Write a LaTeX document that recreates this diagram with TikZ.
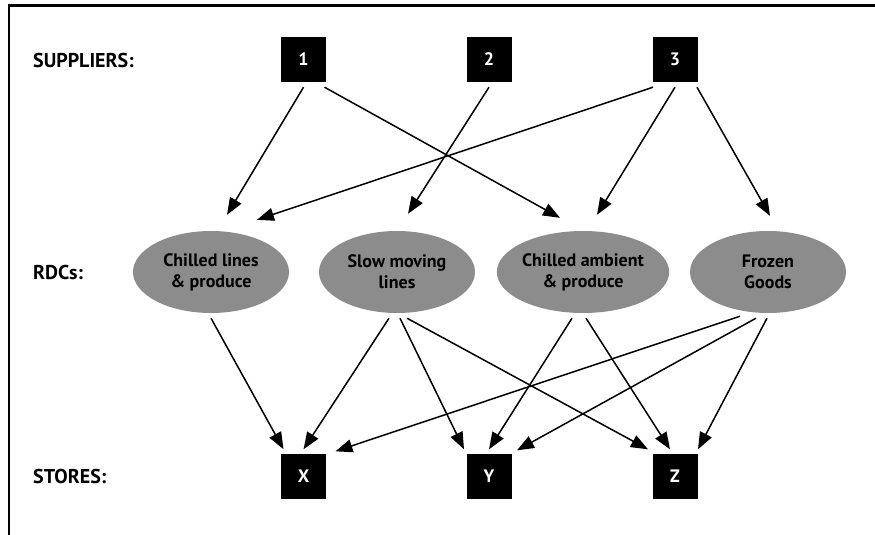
\documentclass[tikz,border=0pt]{standalone}
\usepackage{fontspec}
\setmainfont{PT Sans}
\usetikzlibrary{shapes.geometric,arrows.meta}
\definecolor{rdcgray}{RGB}{140,140,140}
\begin{document}
\begin{tikzpicture}[x=1pt,y=-1pt,
    box/.style={fill=black,text=white,minimum width=45pt,minimum height=45pt,inner sep=0pt,font=\bfseries\fontsize{18}{20}\selectfont},
    rdc/.style={ellipse,fill=rdcgray,minimum width=156pt,minimum height=82pt,inner sep=0pt,align=center,font=\bfseries\fontsize{18}{21}\selectfont},
    rowlabel/.style={anchor=west,inner sep=0pt,font=\bfseries\fontsize{20}{24}\selectfont},
    flow/.style={line width=1.5pt,-{Triangle[length=17pt,width=13pt]}}]
  \useasboundingbox (0,0) rectangle (875,535);
  \draw[line width=2.5pt] (9,535) -- (9,5.5) -- (875,5.5);

  % row labels
  \node[rowlabel] (lsup) at (33,60) {SUPPLIERS:};
  \node[rowlabel] (lrdc) at (33,272) {RDCs:};
  \node[rowlabel] (lsto) at (33,476) {STORES:};

  % suppliers
  \node[box] (s1) at (303.5,59.5) {1};
  \node[box] (s2) at (489,59.5) {2};
  \node[box] (s3) at (675,59.5) {3};

  % RDCs
  \node[rdc] (r1) at (211,272) {Chilled lines\\\& produce};
  \node[rdc] (r2) at (397,272) {Slow moving\\lines};
  \node[rdc] (r3) at (583,272) {Chilled ambient\\\& produce};
  \node[rdc] (r4) at (768,272) {Frozen\\Goods};

  % stores
  \node[box] (st1) at (303.5,476) {X};
  \node[box] (st2) at (489,476) {Y};
  \node[box] (st3) at (675,476) {Z};

  % suppliers to RDCs
  \draw[flow] ([yshift=-5pt]s1.south) -- ([xshift=16pt,yshift=16pt]r1.north);
  \draw[flow] ([xshift=21pt,yshift=-5pt]s1.south) -- ([xshift=-23pt,yshift=13pt]r3.north);
  \draw[flow] ([yshift=-5pt]s2.south) -- ([xshift=11pt,yshift=17pt]r2.north);
  \draw[flow] ([xshift=-22pt,yshift=-5pt]s3.south) -- ([xshift=46pt,yshift=11pt]r1.north);
  \draw[flow] ([yshift=-5pt]s3.south) -- ([xshift=14pt,yshift=16pt]r3.north);
  \draw[flow] ([xshift=22pt,yshift=-5pt]s3.south) -- ([xshift=2pt,yshift=15pt]r4.north);

  % RDCs to stores
  \draw[flow] ([yshift=-5pt]r1.south) -- ([xshift=-20pt,yshift=4pt]st1.north);
  \draw[flow] ([xshift=-8pt,yshift=-5pt]r2.south) -- ([yshift=4pt]st1.north);
  \draw[flow] ([xshift=3pt,yshift=-5pt]r2.south) -- ([xshift=-25pt,yshift=4pt]st2.north);
  \draw[flow] ([xshift=10pt,yshift=-5pt]r2.south) -- ([xshift=-27pt,yshift=4pt]st3.north);
  \draw[flow] ([xshift=-11pt,yshift=-5pt]r3.south) -- ([yshift=4pt]st2.north);
  \draw[flow] ([xshift=3pt,yshift=-5pt]r3.south) -- ([xshift=-5pt,yshift=4pt]st3.north);
  \draw[flow] ([xshift=-28pt,yshift=-3pt]r4.south) -- ([xshift=32pt,yshift=2pt]st1.north);
  \draw[flow] ([xshift=-12pt,yshift=-5pt]r4.south) -- ([xshift=28pt,yshift=3pt]st2.north);
  \draw[flow] ([xshift=-1pt,yshift=-5pt]r4.south) -- ([xshift=23pt,yshift=4pt]st3.north);
\end{tikzpicture}
\end{document}
